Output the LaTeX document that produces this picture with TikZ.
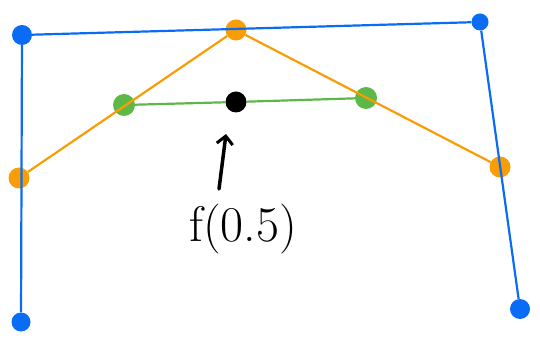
\documentclass[tikz,border=0pt]{standalone}
\usetikzlibrary{arrows.meta}
\definecolor{cblue}{HTML}{0A6CF5}
\definecolor{corange}{HTML}{F89D05}
\definecolor{cgreen}{HTML}{5DB847}
\begin{document}
\begin{tikzpicture}[x=1pt,y=-1pt,
  dot/.style={circle,inner sep=0pt,minimum size=19pt},
  bluedot/.style={dot,fill=cblue},
  orangedot/.style={dot,fill=corange,minimum size=21pt},
  greendot/.style={dot,fill=cgreen,minimum size=22pt},
  blueline/.style={draw=cblue,line width=2.2pt},
  orangeline/.style={draw=corange,line width=2.2pt},
  greenline/.style={draw=cgreen,line width=2.2pt}]
\useasboundingbox (0,0) rectangle (540,344);
% blue control polygon
\node[bluedot] (p0) at (21,322) {};
\node[bluedot,minimum size=20pt] (p1) at (22,35) {};
\node[bluedot,minimum size=17pt] (p2) at (480,22) {};
\node[bluedot,minimum size=20pt] (p3) at (520,309) {};
% orange
\node[orangedot] (q0) at (19,178) {};
\node[orangedot] (q1) at (236,30) {};
\node[orangedot] (q2) at (500,167) {};
% green
\node[greendot] (g0) at (124,105) {};
\node[greendot] (g1) at (366,98) {};
% black
\node[dot,fill=black,minimum size=21pt] (b) at (236,102) {};
\draw[blueline] (p0) -- (p1) -- (p2) -- (p3);
\draw[orangeline] (q0) -- (q1) -- (q2);
\draw[greenline] (g0) -- (b) -- (g1);
% label and arrow
\node (lab) at (243,229) {\fontsize{50}{50}\selectfont f(0.5)};
\coordinate (a0) at (219,189);
\coordinate (a1) at (226,134);
\draw[line width=3.5pt,line cap=round,-{Straight Barb[length=8pt,width=16pt,line width=3pt]}] (a0) -- (a1);
\end{tikzpicture}
\end{document}
